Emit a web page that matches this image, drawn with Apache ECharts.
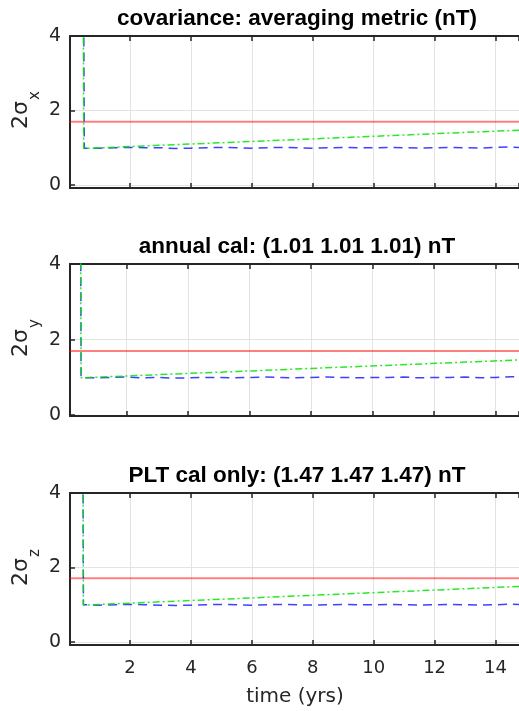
<!DOCTYPE html>
<html>
<head>
<meta charset="utf-8">
<script src="https://cdn.jsdelivr.net/npm/echarts@6/dist/echarts.min.js"></script>
<style>
html,body{margin:0;padding:0;background:#fff;}
#chart{width:519px;height:711px;}
</style>
</head>
<body>
<div id="chart"></div>
<script>
// ---- data ----
const titles = [
  'covariance: averaging metric (nT)',
  'annual cal: (1.01 1.01 1.01) nT',
  'PLT cal only: (1.47 1.47 1.47) nT'
];
const yLabelSubs = ['x', 'y', 'z'];
const xLabel = 'time (yrs)';

// x-axis extents of each panel (years)
const xMin = [0.03, 0.16, 0.03];
const xMax = [14.77, 14.76, 14.77];
// y-axis extents
const yMin = [-0.08, -0.02, -0.08];
const yMax = [4, 4, 4];

// red reference level
const redX = [0, 15];
const red1 = [1.70, 1.70];
const red2 = [1.70, 1.70];
const red3 = [1.71, 1.71];

// green dash-dot curve
const greenX1 = [0.45, 0.48, 15];
const greenX2 = [0.49, 0.52, 15];
const greenX3 = [0.44, 0.47, 15];
const green1 = [10, 0.98, 1.48];
const green2 = [10, 0.99, 1.47];
const green3 = [10, 0.99, 1.50];

// blue dashed curve
const blueX1 = [0.45, 0.5, 1, 1.5, 2, 2.5, 3, 3.5, 4, 4.5, 5, 5.5, 6, 6.5, 7, 7.5, 8, 8.5, 9, 9.5, 10, 10.5, 11, 11.5, 12, 12.5, 13, 13.5, 14, 14.5, 15];
const blueX2 = [0.49, 0.52, 1, 1.5, 2, 2.5, 3, 3.5, 4, 4.5, 5, 5.5, 6, 6.5, 7, 7.5, 8, 8.5, 9, 9.5, 10, 10.5, 11, 11.5, 12, 12.5, 13, 13.5, 14, 14.5, 15];
const blueX3 = [0.44, 0.47, 1, 1.5, 2, 2.5, 3, 3.5, 4, 4.5, 5, 5.5, 6, 6.5, 7, 7.5, 8, 8.5, 9, 9.5, 10, 10.5, 11, 11.5, 12, 12.5, 13, 13.5, 14, 14.5, 15];
const blue1 = [10, 0.99, 0.99, 1.00, 1.01, 1.00, 1.00, 0.98, 0.99, 1.00, 1.01, 1.00, 0.99, 1.00, 1.01, 1.00, 0.99, 1.00, 1.01, 1.00, 1.00, 1.01, 1.00, 0.99, 1.00, 1.01, 1.00, 0.99, 1.01, 1.02, 1.00];
const blue2 = [10, 0.99, 0.99, 1.00, 1.01, 0.99, 1.00, 0.98, 0.99, 1.00, 1.00, 0.99, 1.00, 1.01, 1.00, 0.99, 1.00, 1.01, 1.00, 0.99, 1.00, 1.00, 1.01, 0.99, 1.00, 1.00, 1.01, 0.99, 1.00, 1.02, 1.00];
const blue3 = [10, 1.00, 0.99, 1.00, 1.01, 1.00, 0.99, 0.98, 0.99, 1.00, 1.01, 1.00, 0.99, 1.00, 1.01, 1.00, 0.99, 1.00, 1.01, 1.00, 1.00, 1.01, 1.00, 0.99, 1.00, 1.01, 1.00, 0.99, 1.00, 1.02, 1.00];

const redY = [red1, red2, red3];
const greenXs = [greenX1, greenX2, greenX3];
const greenY = [green1, green2, green3];
const blueXs = [blueX1, blueX2, blueX3];
const blueY = [blue1, blue2, blue3];

// ---- layout ----
const gridTops = [36, 264, 493];
const gridH = 152;
const LEFT = 70;
const AX = '#262626';
const REG = '"DejaVu Sans", "Liberation Sans", Arial, sans-serif';
const BOLD = '"Liberation Sans", Arial, sans-serif';

const pairs = (xs, ys) => xs.map((x, i) => [x, ys[i]]);

const grids = [], xAxes = [], yAxes = [], series = [], graphic = [];
for (let i = 0; i < 3; i++) {
  grids.push({left: LEFT, right: 0, top: gridTops[i], height: gridH, containLabel: false});
  // bottom x axis
  xAxes.push({
    type: 'value', gridIndex: i, position: 'bottom',
    min: xMin[i], max: xMax[i], splitNumber: 7, minInterval: 2, maxInterval: 2,
    axisLine: {show: true, onZero: false, lineStyle: {color: AX, width: 2}},
    axisTick: {show: true, inside: true, length: 5, lineStyle: {color: AX, width: 1.5}},
    axisLabel: {show: i === 2, showMinLabel: false, showMaxLabel: false, color: AX,
      fontSize: 18, fontFamily: REG, margin: 14},
    splitLine: {show: true, lineStyle: {color: '#e3e3e3', width: 1}}
  });
  // top x axis (box)
  xAxes.push({
    type: 'value', gridIndex: i, position: 'top',
    min: xMin[i], max: xMax[i], splitNumber: 7, minInterval: 2, maxInterval: 2,
    axisLine: {show: true, onZero: false, lineStyle: {color: AX, width: 2}},
    axisTick: {show: true, inside: true, length: 5, lineStyle: {color: AX, width: 1.5}},
    axisLabel: {show: false},
    splitLine: {show: false}
  });
  yAxes.push({
    type: 'value', gridIndex: i, position: 'left',
    min: yMin[i], max: yMax[i], splitNumber: 2, minInterval: 2, maxInterval: 2,
    axisLine: {show: true, onZero: false, lineStyle: {color: AX, width: 2}},
    axisTick: {show: true, inside: true, length: 5, lineStyle: {color: AX, width: 1.5}},
    axisLabel: {show: true, showMinLabel: false, color: AX, fontSize: 19, fontFamily: REG, margin: 9},
    splitLine: {show: true, lineStyle: {color: '#e3e3e3', width: 1}}
  });
  const xi = i * 2;
  series.push({
    type: 'line', xAxisIndex: xi, yAxisIndex: i, data: pairs(redX, redY[i]),
    showSymbol: false, clip: true, silent: true,
    lineStyle: {color: 'rgba(255,0,0,0.5)', width: 2}
  });
  series.push({
    type: 'line', xAxisIndex: xi, yAxisIndex: i, data: pairs(blueXs[i], blueY[i]),
    showSymbol: false, clip: true, silent: true,
    lineStyle: {color: 'rgba(0,0,255,0.75)', width: 1.5, type: [9, 6]}
  });
  series.push({
    type: 'line', xAxisIndex: xi, yAxisIndex: i, data: pairs(greenXs[i], greenY[i]),
    showSymbol: false, clip: true, silent: true,
    lineStyle: {color: 'rgba(0,230,0,0.85)', width: 1.5, type: [7, 3, 2, 3]}
  });

  // title
  graphic.push({
    type: 'text', x: 297, y: gridTops[i] - 17,
    style: {text: titles[i], font: 'bold 22.5px ' + BOLD, fill: '#000',
      textAlign: 'center', textVerticalAlign: 'middle'}
  });
  // y label 2σ_sub (rotated)
  const mid = gridTops[i] + gridH / 2;
  graphic.push({
    type: 'group', x: 21, y: mid, rotation: Math.PI / 2,
    children: [
      {type: 'text', x: -17, y: 0,
       style: {text: '2σ', font: '22px ' + REG, fill: AX, textAlign: 'left', textVerticalAlign: 'middle'}},
      {type: 'text', x: 12, y: 14,
       style: {text: yLabelSubs[i], font: '15px ' + REG, fill: AX, textAlign: 'left', textVerticalAlign: 'middle'}}
    ]
  });
}
graphic.push({
  type: 'text', x: 295, y: 697,
  style: {text: xLabel, font: '20px ' + REG, fill: AX, textAlign: 'center', textVerticalAlign: 'middle'}
});

const chart = echarts.init(document.getElementById('chart'), null, {renderer: 'canvas'});
chart.setOption({
  animation: false,
  backgroundColor: '#fff',
  grid: grids, xAxis: xAxes, yAxis: yAxes, series: series, graphic: graphic
});
</script>
</body>
</html>
